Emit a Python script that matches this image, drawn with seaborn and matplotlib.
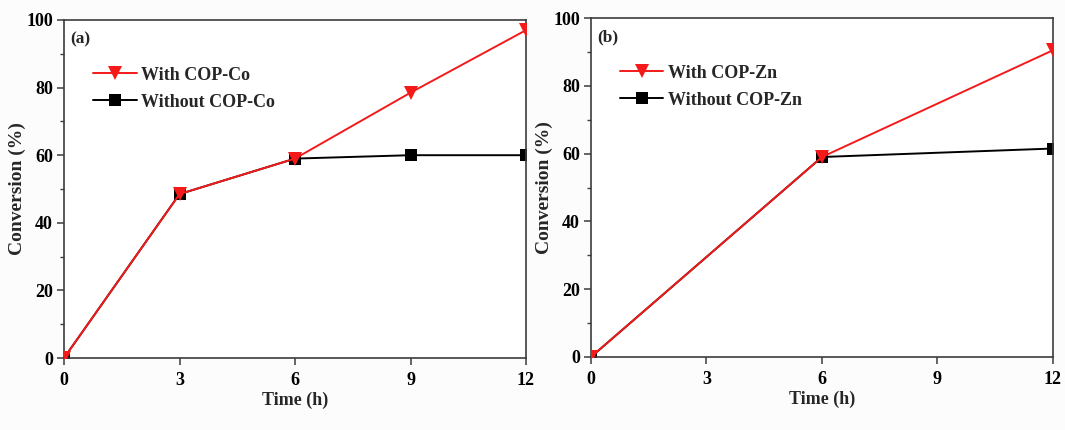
import matplotlib
matplotlib.use("Agg")
import matplotlib.pyplot as plt
from matplotlib.ticker import MultipleLocator
from matplotlib.lines import Line2D
import seaborn as sns
import pandas as pd

# Reaction conversion over time, with and without catalyst
time_a = [0, 3, 6, 9, 12]
with_co = [0, 48.5, 59, 78.5, 97]
without_co = [0, 48.5, 59, 60, 60]

time_b = [0, 6, 12]
with_zn = [0, 59, 90.5]
without_zn = [0, 59, 61.5]

panel_tags = ["(a)", "(b)"]
labels_a = ["With COP-Co", "Without COP-Co"]
labels_b = ["With COP-Zn", "Without COP-Zn"]
x_ticks = [0, 3, 6, 9, 12]
y_ticks = [0, 20, 40, 60, 80, 100]

sns.set_theme(style="white")
plt.rcParams["font.family"] = ["Liberation Serif", "DejaVu Serif"]
plt.rcParams["font.weight"] = "bold"

RED = "#f41a1a"
BLACK = "#000000"
SPINE = "#3c3c3c"

fig = plt.figure(figsize=(10.65, 4.3), dpi=100)
fig.patch.set_facecolor("#fcfcfc")
ax_a = fig.add_axes([0.0601, 0.1674, 0.4338, 0.7861])
ax_b = fig.add_axes([0.5549, 0.1698, 0.4338, 0.7883])


def draw_panel(ax, t, y_with, y_without, labels, tag):
    df = pd.DataFrame({"t": t, "with": y_with, "without": y_without})
    sns.lineplot(data=df, x="t", y="without", ax=ax, color=BLACK, lw=1.4,
                 marker="s", markersize=8, markeredgewidth=0, zorder=2)
    sns.lineplot(data=df, x="t", y="with", ax=ax, color=RED, lw=1.4,
                 marker="v", markersize=10, markeredgewidth=0, zorder=3)
    ax.set_xlim(0, 12)
    ax.set_ylim(0, 100)
    ax.set_xticks(x_ticks)
    ax.set_yticks(y_ticks)
    ax.yaxis.set_minor_locator(MultipleLocator(10))
    ax.set_facecolor("white")
    for s in ax.spines.values():
        s.set_color(SPINE)
        s.set_linewidth(1.2)
    ax.tick_params(axis="both", which="major", direction="out", length=5,
                   width=1.1, color=SPINE, labelsize=13, pad=3,
                   bottom=True, left=True, top=False, right=False)
    ax.tick_params(axis="x", which="major", pad=5)
    ax.tick_params(axis="y", which="minor", direction="out", length=3,
                   width=1.0, color=SPINE, left=True)
    for lab in ax.get_xticklabels() + ax.get_yticklabels():
        lab.set_fontweight("bold")
        lab.set_color("black")
    ax.set_xlabel("Time (h)", fontsize=13, fontweight="bold", labelpad=2)
    ax.set_ylabel("Conversion (%)", fontsize=14, fontweight="bold", labelpad=0)
    ax.text(0.013, 0.965, tag, transform=ax.transAxes, ha="left", va="top",
            fontsize=12.5, fontweight="bold")
    handles = [
        Line2D([], [], color=RED, lw=1.4, marker="v", markersize=10, markeredgewidth=0),
        Line2D([], [], color=BLACK, lw=1.4, marker="s", markersize=8, markeredgewidth=0),
    ]
    ax.legend(handles, labels, loc="upper left", bbox_to_anchor=(0.028, 0.91),
              frameon=False, handlelength=2.4, handletextpad=0.25,
              labelspacing=0.55, prop={"size": 13, "weight": "bold"})


draw_panel(ax_a, time_a, with_co, without_co, labels_a, panel_tags[0])
draw_panel(ax_b, time_b, with_zn, without_zn, labels_b, panel_tags[1])

fig.savefig("out.png", dpi=100, facecolor=fig.get_facecolor())
